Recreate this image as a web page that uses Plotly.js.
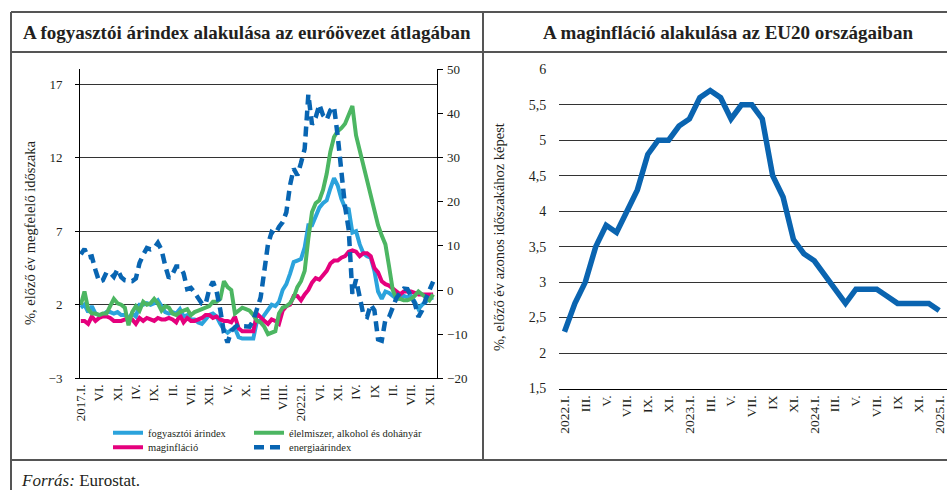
<!DOCTYPE html>
<html>
<head>
<meta charset="utf-8">
<script src="https://cdn.plot.ly/plotly-3.0.1.min.js"></script>
<style>html,body{margin:0;padding:0;background:#fff;}#chart{width:947px;height:490px;}</style>
</head>
<body>
<div id="chart"></div>
<script>
// ---------- DATA (left chart: monthly, 2017.I – 2025.I) ----------
const leftTickText = ['2017.I.','VI.','XI.','IV.','IX.','II.','VII.','XII.','V.','X.','III.','VIII.','2022.I.','VI.','XI.','IV.','IX','II.','VII.','XII.'];

const hicp = [
  1.8,2.0,1.5,1.9,1.4,1.3,1.3,1.5,1.5,1.4,1.5,1.3,
  1.3,1.1,1.4,1.2,2.0,2.0,2.1,2.0,2.1,2.3,1.9,1.5,
  1.4,1.5,1.4,1.7,1.2,1.3,1.0,1.0,0.8,0.7,1.0,1.3,
  1.4,1.2,0.7,0.3,0.1,0.3,0.4,-0.2,-0.3,-0.3,-0.3,-0.3,
  0.9,0.9,1.3,1.6,2.0,1.9,2.2,3.0,3.4,4.1,4.9,5.0,
  5.1,5.9,7.4,7.4,8.1,8.6,8.9,9.1,9.9,10.6,10.1,9.2,
  8.6,8.5,6.9,7.0,6.1,5.5,5.3,5.2,4.3,2.9,2.4,2.9,
  2.8,2.6,2.4,2.4,2.6,2.5,2.6,2.2,1.7,2.0,2.2,2.4,
  2.5
];
const food = [
  2.0,2.9,1.7,1.4,1.4,1.3,1.4,1.4,1.9,2.4,2.1,2.0,
  1.8,0.6,1.5,1.9,1.6,2.2,2.0,2.1,2.4,2.1,1.6,1.9,
  1.8,1.4,1.3,1.5,1.6,1.7,1.3,1.5,1.6,1.7,1.8,1.9,
  2.2,2.2,2.4,3.6,3.2,3.0,1.4,1.6,1.8,1.7,1.6,1.3,
  0.9,0.8,0.5,0.0,0.1,0.2,1.4,1.8,1.9,2.1,2.5,3.2,
  3.6,4.3,6.5,8.3,8.9,9.1,9.8,10.9,12.4,13.4,13.8,14.0,
  14.3,15.0,15.5,13.5,12.5,11.5,10.4,9.4,8.6,7.4,6.7,6.1,
  4.6,3.0,2.4,2.4,2.3,2.3,2.4,2.6,2.9,2.7,2.5,2.3,
  2.7
];
const core = [
  0.9,0.9,0.7,1.2,0.9,1.1,1.2,1.2,1.1,0.9,0.9,0.9,
  1.0,1.0,1.0,0.7,1.1,0.9,1.1,1.0,0.9,1.1,1.0,1.0,
  1.1,1.0,0.8,1.3,0.8,1.1,0.9,0.9,1.0,1.1,1.3,1.3,
  1.1,1.2,1.0,0.9,0.9,0.8,1.2,0.4,0.2,0.2,0.2,0.2,
  1.4,1.1,0.9,0.7,1.0,0.9,0.7,1.6,1.9,2.0,2.6,2.6,
  2.3,2.7,3.0,3.5,3.8,3.7,4.0,4.3,4.8,5.0,5.0,5.2,
  5.3,5.6,5.7,5.6,5.3,5.5,5.5,5.3,4.5,4.2,3.6,3.4,
  3.3,3.1,2.9,2.7,2.9,2.9,2.9,2.8,2.7,2.7,2.7,2.7,
  2.7
];
const energy = [
  8.1,9.3,7.4,7.6,4.5,1.9,2.2,4.0,3.9,3.0,4.7,2.9,
  2.2,2.1,2.0,2.6,6.1,8.0,9.5,9.2,9.5,10.7,9.1,5.5,
  2.7,3.6,5.3,5.3,3.8,0.2,0.5,-0.6,-1.8,-3.1,-3.2,0.2,
  1.9,-0.3,-4.5,-9.7,-11.9,-9.3,-8.4,-7.8,-8.2,-8.2,-8.3,-6.9,
  -4.2,-1.7,4.3,10.4,13.1,12.6,14.3,15.4,17.6,23.7,27.5,26.0,
  28.8,32.0,44.3,37.5,39.1,42.0,39.6,38.6,40.7,41.5,34.9,25.5,
  18.9,13.7,-0.9,2.4,-1.8,-5.6,-6.1,-3.3,-4.6,-11.2,-11.5,-6.7,
  -6.1,-3.7,-1.8,-0.6,0.3,0.2,-1.3,-3.0,-6.1,-4.6,-2.0,0.1,
  1.9
];

// ---------- DATA (right chart: monthly, 2022.I – 2025.I) ----------
const rightTickText = ['2022.I.','III.','V.','VII.','IX.','XI.','2023.I.','III.','V.','VII.','IX','XI.','2024.I.','III.','V.','VII.','IX','XI.','2025.I.'];
const coreEU20 = [
  2.3,2.7,3.0,3.5,3.8,3.7,4.0,4.3,4.8,5.0,5.0,5.2,
  5.3,5.6,5.7,5.6,5.3,5.5,5.5,5.3,4.5,4.2,3.6,3.4,
  3.3,3.1,2.9,2.7,2.9,2.9,2.9,2.8,2.7,2.7,2.7,2.7,
  2.6
];

// ---------- helpers ----------
const W = 947, H = 490;
const px = v => v / W;
const py = v => 1 - v / H;
const idx = arr => arr.map((_, i) => i);
const FONT = 'Liberation Serif, Times New Roman, serif';
const TXT = '#231f20';

const cBlue = '#2ba3dc', cGreen = '#4cb662', cMag = '#e5007d', cDark = '#0865b2';

const leftYDom = [py(378.3), py(69.3)];
const zeroPos = leftYDom[0] + (3 / 21) * (leftYDom[1] - leftYDom[0]);
const leftXRange = [-0.22, 96.92];

const traces = [
  {x: idx(hicp), y: hicp, type: 'scatter', mode: 'lines', name: 'fogyasztói árindex',
   line: {color: cBlue, width: 4}, xaxis: 'x', yaxis: 'y', legend: 'legend'},
  {x: idx(core), y: core, type: 'scatter', mode: 'lines', name: 'maginfláció',
   line: {color: cMag, width: 4}, xaxis: 'x', yaxis: 'y', legend: 'legend3'},
  {x: idx(food), y: food, type: 'scatter', mode: 'lines', name: 'élelmiszer, alkohol és dohányár',
   line: {color: cGreen, width: 4}, xaxis: 'x', yaxis: 'y', legend: 'legend2'},
  {x: idx(energy), y: energy, type: 'scatter', mode: 'lines', name: 'energiaárindex',
   line: {color: cDark, width: 4.5, dash: '10px,6px'}, xaxis: 'x', yaxis: 'y2', legend: 'legend4'},
  {x: idx(coreEU20), y: coreEU20, type: 'scatter', mode: 'lines', name: 'maginfláció EU20',
   line: {color: '#0a64b0', width: 5.5}, xaxis: 'x2', yaxis: 'y3', showlegend: false}
];

const shapeLine = (x0, y0, x1, y1) => ({type: 'line', xref: 'paper', yref: 'paper',
  x0: px(x0), y0: py(y0), x1: px(x1), y1: py(y1), line: {color: '#555', width: 2}});

const legendAt = (x, y) => ({
  orientation: 'v', x: px(x), y: py(y), xanchor: 'left', yanchor: 'middle',
  font: {size: 10.5, family: FONT, color: TXT}, itemwidth: 30,
  bgcolor: 'rgba(0,0,0,0)', borderwidth: 0
});

const layout = {
  width: W, height: H,
  margin: {l: 0, r: 0, t: 0, b: 0},
  paper_bgcolor: '#fff', plot_bgcolor: 'rgba(0,0,0,0)',
  font: {family: FONT, color: TXT, size: 13},
  separators: ', ',
  showlegend: true,
  xaxis: {
    domain: [px(80), px(436.5)], range: leftXRange, anchor: 'y',
    tickvals: leftTickText.map((_, k) => 5 * k), ticktext: leftTickText,
    tickangle: -90, tickfont: {size: 13, family: FONT, color: TXT},
    ticks: '', showline: true, linecolor: '#000', linewidth: 1,
    showgrid: false, zeroline: false, fixedrange: true
  },
  xaxis3: {
    overlaying: 'x', anchor: 'free', position: zeroPos, range: leftXRange,
    tickmode: 'linear', tick0: 0, dtick: 1, ticks: 'outside', ticklen: 3, tickwidth: 1,
    tickcolor: '#000', showticklabels: false, showline: true, linecolor: '#000', linewidth: 1,
    showgrid: false, zeroline: false
  },
  yaxis: {
    domain: leftYDom, range: [-3, 18], anchor: 'x',
    tickvals: [-3, 2, 7, 12, 17], showgrid: true, gridcolor: '#333', gridwidth: 1,
    showline: true, linecolor: '#000', linewidth: 1, ticks: 'outside', ticklen: 4, tickcolor: '#000',
    zeroline: false, tickfont: {size: 13, family: FONT, color: TXT}, ticklabelstandoff: 10
  },
  yaxis2: {
    overlaying: 'y', side: 'right', anchor: 'x', range: [-20, 50], dtick: 10, tick0: 0,
    showgrid: false, showline: true, linecolor: '#000', linewidth: 1,
    ticks: 'outside', ticklen: 5, tickcolor: '#000', zeroline: false,
    tickfont: {size: 13, family: FONT, color: TXT}, ticklabelstandoff: 2
  },
  xaxis2: {
    domain: [px(559.3), 1], range: [-0.5, 36.75], anchor: 'y3',
    tickvals: rightTickText.map((_, k) => 2 * k), ticktext: rightTickText,
    tickangle: -90, tickfont: {size: 13.5, family: FONT, color: TXT}, ticklabeloverflow: 'allow',
    ticks: '', showline: true, linecolor: '#000', linewidth: 1.5,
    showgrid: false, zeroline: false
  },
  yaxis3: {
    domain: [py(388.5), py(69.3)], range: [1.5, 6], dtick: 0.5, tick0: 0, anchor: 'x2',
    showgrid: true, gridcolor: '#333', gridwidth: 1, showline: false, zeroline: false,
    ticks: '', tickfont: {size: 14, family: FONT, color: TXT}, ticklabelstandoff: 12
  },
  legend: legendAt(108, 432.7),
  legend2: legendAt(249, 432.7),
  legend3: legendAt(108, 447.3),
  legend4: legendAt(249, 447.3),
  shapes: [
    shapeLine(11, 12, 947, 12),
    shapeLine(11, 12, 11, 490),
    shapeLine(11, 52, 947, 52),
    shapeLine(483, 12, 483, 460),
    shapeLine(11, 460, 947, 460)
  ],
  annotations: [
    {text: '<b>A fogyasztói árindex alakulása az euróövezet átlagában</b>', xref: 'paper', yref: 'paper',
     x: px(247), y: py(32), xanchor: 'center', yanchor: 'middle', showarrow: false,
     font: {size: 19, family: FONT, color: TXT}},
    {text: '<b>A maginfláció alakulása az EU20 országaiban</b>', xref: 'paper', yref: 'paper',
     x: px(728), y: py(32), xanchor: 'center', yanchor: 'middle', showarrow: false,
     font: {size: 19, family: FONT, color: TXT}},
    {text: '%, előző év megfelelő időszaka', xref: 'paper', yref: 'paper',
     x: px(30), y: py(233), xanchor: 'center', yanchor: 'middle', textangle: -90, showarrow: false,
     font: {size: 14.5, family: FONT, color: TXT}},
    {text: '%, előző év azonos időszakához képest', xref: 'paper', yref: 'paper',
     x: px(499), y: py(237), xanchor: 'center', yanchor: 'middle', textangle: -90, showarrow: false,
     font: {size: 14.5, family: FONT, color: TXT}},
    {text: '<i>Forrás:</i> Eurostat.', xref: 'paper', yref: 'paper',
     x: px(19), y: py(480), xanchor: 'left', yanchor: 'middle', showarrow: false,
     font: {size: 17, family: FONT, color: TXT}}
  ]
};

Plotly.newPlot('chart', traces, layout, {displayModeBar: false, staticPlot: true});
</script>
</body>
</html>
